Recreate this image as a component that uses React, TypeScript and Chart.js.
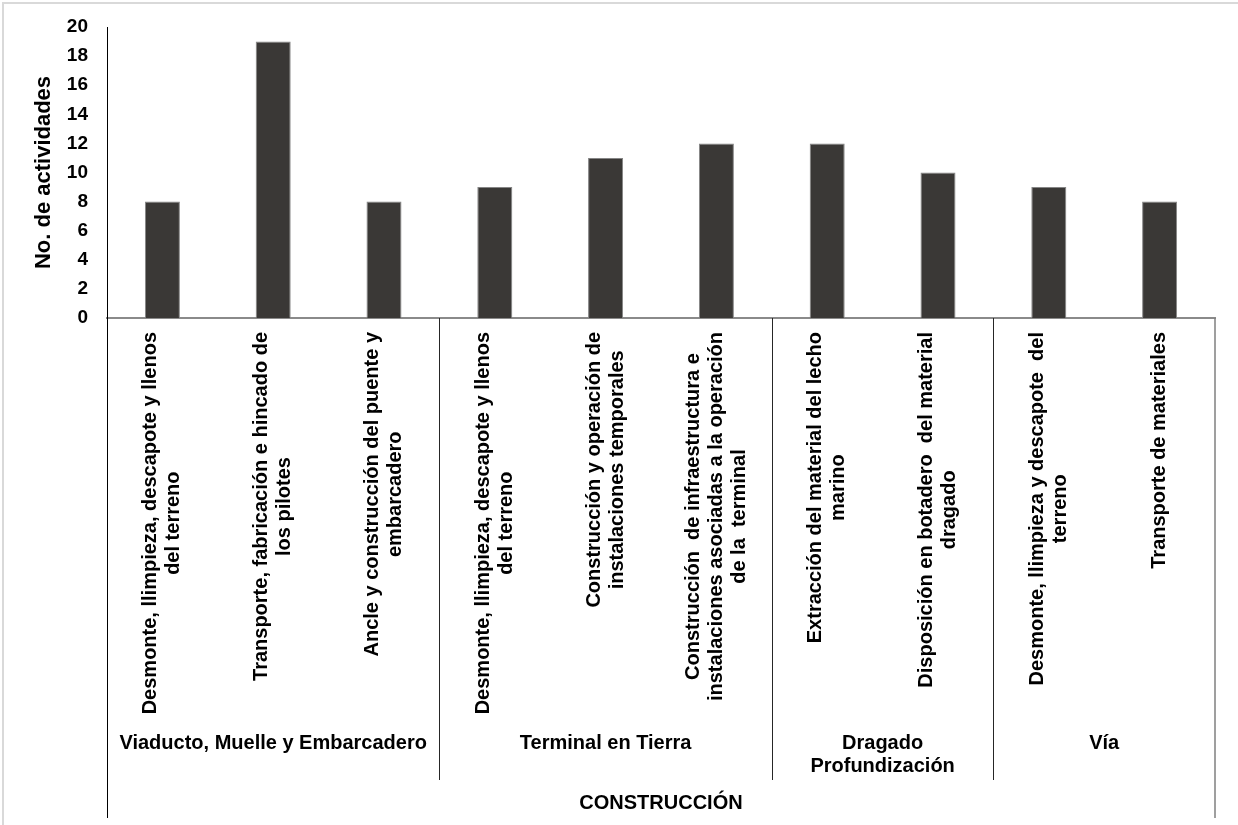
import React, { useEffect, useRef } from "react";
import { Chart, registerables } from "chart.js";

Chart.register(...registerables);

const categoryLabels: string[][] = [
  ["Desmonte, llimpieza, descapote y llenos", "del terreno"],
  ["Transporte, fabricación e hincado de", "los pilotes"],
  ["Ancle y construcción del puente y", "embarcadero"],
  ["Desmonte, llimpieza, descapote y llenos", "del terreno"],
  ["Construcción y operación de", "instalaciones temporales"],
  ["Construcción  de infraestructura e", "instalaciones asociadas a la operación", "de la  terminal"],
  ["Extracción del material del lecho", "marino"],
  ["Disposición en botadero  del material", "dragado"],
  ["Desmonte, llimpieza y descapote  del", "terreno"],
  ["Transporte de materiales"],
];

const activityCounts: number[] = [8, 19, 8, 9, 11, 12, 12, 10, 9, 8];

const groupNames: string[][] = [
  ["Viaducto, Muelle y Embarcadero"],
  ["Terminal en Tierra"],
  ["Dragado", "Profundización"],
  ["Vía"],
];
const groupSizes: number[] = [3, 3, 2, 2];
const topGroupName = "CONSTRUCCIÓN";

const yTitle = "No. de actividades";
const yMin = 0;
const yMax = 20;
const yStep = 2;

const FONT = "'Liberation Sans', Arial, Helvetica, sans-serif";

const labelsPlugin = {
  id: "multiLevelLabels",
  afterDraw(chart: any) {
    const ctx: CanvasRenderingContext2D = chart.ctx;
    const xs = chart.scales.x;
    const area = chart.chartArea;
    const bottom = area.bottom;
    const n = categoryLabels.length;
    const half = (xs.getPixelForValue(1) - xs.getPixelForValue(0)) / 2;
    const leftX = xs.getPixelForValue(0) - half;
    const rightX = xs.getPixelForValue(n - 1) + half;

    ctx.save();
    // outer frame (image border)
    ctx.strokeStyle = "#d9d9d9";
    ctx.lineWidth = 2;
    ctx.beginPath();
    ctx.moveTo(3, 825);
    ctx.lineTo(3, 3);
    ctx.lineTo(1238, 3);
    ctx.stroke();

    // left line extension
    ctx.strokeStyle = "#000000";
    ctx.lineWidth = 1;
    ctx.beginPath();
    ctx.moveTo(Math.round(leftX) + 0.5, bottom);
    ctx.lineTo(Math.round(leftX) + 0.5, 818);
    ctx.stroke();

    // right line
    ctx.strokeStyle = "#7f7f7f";
    ctx.lineWidth = 1.5;
    ctx.beginPath();
    ctx.moveTo(Math.round(rightX), bottom);
    ctx.lineTo(Math.round(rightX), 818);
    ctx.stroke();

    // group separators
    ctx.strokeStyle = "#262626";
    ctx.lineWidth = 1;
    let idx = 0;
    for (let g = 0; g < groupSizes.length - 1; g++) {
      idx += groupSizes[g];
      const bx = (xs.getPixelForValue(idx - 1) + xs.getPixelForValue(idx)) / 2;
      ctx.beginPath();
      ctx.moveTo(Math.round(bx) + 0.5, bottom);
      ctx.lineTo(Math.round(bx) + 0.5, 780);
      ctx.stroke();
    }

    // category labels (rotated)
    ctx.fillStyle = "#000000";
    ctx.font = `bold 20px ${FONT}`;
    const lineH = 23;
    const topY = 332;
    for (let i = 0; i < n; i++) {
      const lines = categoryLabels[i];
      const x = xs.getPixelForValue(i);
      let maxW = 0;
      for (const l of lines) maxW = Math.max(maxW, ctx.measureText(l).width);
      ctx.save();
      ctx.translate(x, topY + maxW / 2);
      ctx.rotate(-Math.PI / 2);
      ctx.textAlign = "center";
      ctx.textBaseline = "middle";
      lines.forEach((l, j) => {
        ctx.fillText(l, 0, (j - (lines.length - 1) / 2) * lineH);
      });
      ctx.restore();
    }

    // group labels
    ctx.textAlign = "center";
    ctx.textBaseline = "middle";
    idx = 0;
    for (let g = 0; g < groupSizes.length; g++) {
      const first = idx;
      const last = idx + groupSizes[g] - 1;
      const cx = (xs.getPixelForValue(first) + xs.getPixelForValue(last)) / 2;
      groupNames[g].forEach((l, j) => {
        ctx.fillText(l, cx, 743 + j * lineH);
      });
      idx += groupSizes[g];
    }

    // top-level label
    ctx.fillText(topGroupName, (leftX + rightX) / 2, 803);
    ctx.restore();
  },
};

export default function App() {
  const canvasRef = useRef<HTMLCanvasElement | null>(null);

  useEffect(() => {
    if (!canvasRef.current) return;
    const chart = new Chart(canvasRef.current, {
      type: "bar",
      data: {
        labels: categoryLabels.map((l) => l.join(" ")),
        datasets: [
          {
            label: yTitle,
            data: activityCounts,
            backgroundColor: "#3a3836",
            borderColor: "#858585",
            borderWidth: 1,
            barPercentage: 0.316,
            categoryPercentage: 1,
          },
        ],
      },
      options: {
        animation: false,
        responsive: false,
        devicePixelRatio: 1,
        layout: { padding: { top: 27, right: 23, bottom: 507, left: 0 } },
        plugins: {
          legend: { display: false },
          tooltip: { enabled: false },
        },
        scales: {
          x: {
            ticks: { display: false },
            grid: { display: false },
            border: { display: true, color: "#8a8a8a", width: 2 },
            afterFit: (s: any) => {
              s.height = 0;
            },
          },
          y: {
            min: yMin,
            max: yMax,
            ticks: {
              stepSize: yStep,
              padding: 11,
              color: "#000000",
              font: { family: FONT, size: 19, weight: "bold" },
            },
            grid: { display: false },
            border: { display: true, color: "#000000", width: 1 },
            title: {
              display: true,
              text: yTitle,
              color: "#000000",
              font: { family: FONT, size: 22, weight: "bold" },
              padding: { top: 31, bottom: 0 },
            },
            afterFit: (s: any) => {
              s.width = 107;
            },
          },
        },
      },
      plugins: [labelsPlugin],
    });
    return () => chart.destroy();
  }, []);

  return (
    <div style={{ position: "absolute", left: 0, top: 0, width: 1238, height: 825, background: "#ffffff" }}>
      <canvas ref={canvasRef} width={1238} height={825} style={{ display: "block" }} />
    </div>
  );
}
